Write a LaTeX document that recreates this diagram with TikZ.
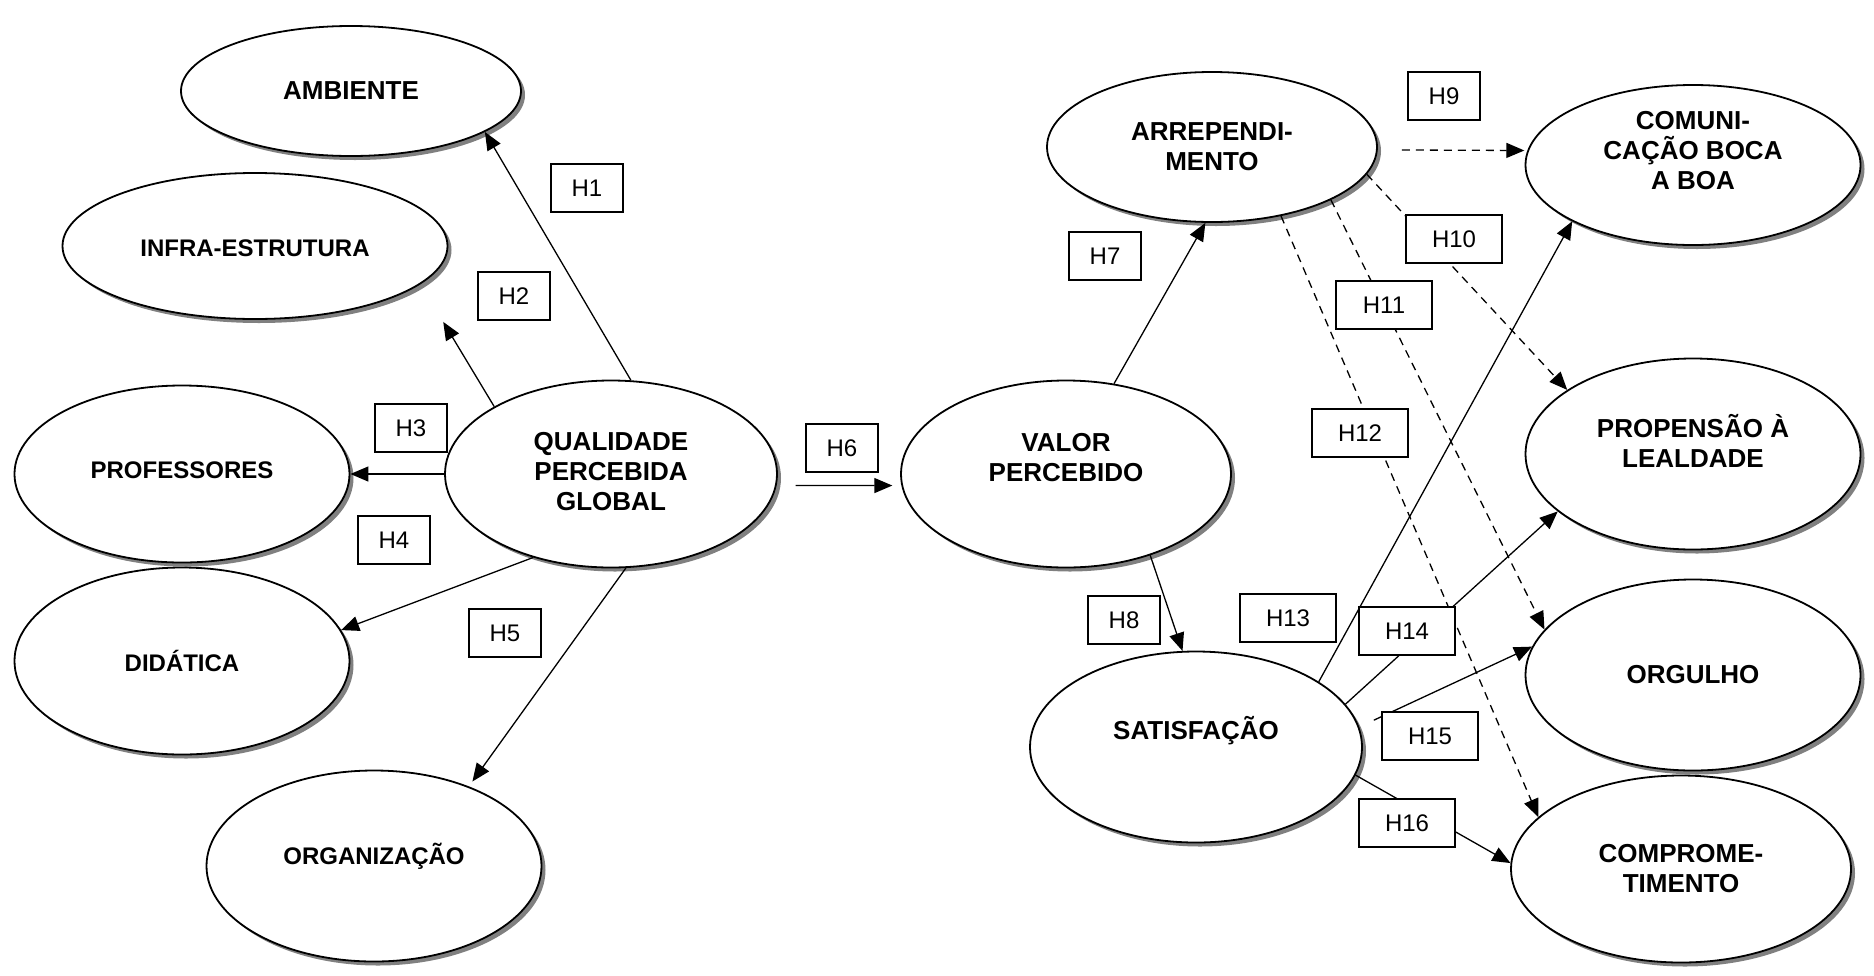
\documentclass[tikz,border=0pt]{standalone}
\usepackage{fontspec}
\setmainfont{Liberation Sans}
\usetikzlibrary{shapes.geometric,arrows.meta,shadows}

\begin{document}
\begin{tikzpicture}[x=1pt,y=-1pt,
  ell/.style={ellipse, draw, line width=1.8pt, fill=white, inner sep=0pt,
    drop shadow={shadow xshift=4pt, shadow yshift=-4pt, fill=black!50, opacity=1}},
  ttl/.style={align=center, inner sep=0pt, font=\bfseries\fontsize{26}{30}\selectfont},
  ttls/.style={ttl, font=\bfseries\fontsize{24}{28}\selectfont},
  hbox/.style={draw, line width=1.4pt, fill=white, minimum height=48pt,
    minimum width=72pt, inner sep=0pt, font=\fontsize{24}{28}\selectfont},
  hwide/.style={hbox, minimum width=96pt},
  link/.style={line width=1.3pt, -{Triangle[length=18pt,width=15pt]}},
  dlink/.style={link, dash pattern=on 8pt off 6pt}]

\useasboundingbox (0,0) rectangle (1874,975);

% constructs (ellipses)
\node[ell, minimum width=340pt, minimum height=130pt] (amb)   at (351,91)   {};
\node[ell, minimum width=385pt, minimum height=146pt] (infra) at (255,246)  {};
\node[ell, minimum width=335pt, minimum height=177pt] (prof)  at (182,474)  {};
\node[ell, minimum width=335pt, minimum height=187pt] (did)   at (182,661)  {};
\node[ell, minimum width=335pt, minimum height=191pt] (org)   at (374,866)  {};
\node[ell, minimum width=332pt, minimum height=187pt] (qual)  at (611,474)  {};
\node[ell, minimum width=330pt, minimum height=187pt] (valor) at (1066,474) {};
\node[ell, minimum width=330pt, minimum height=150pt] (arr)   at (1212,147) {};
\node[ell, minimum width=335pt, minimum height=160pt] (com)   at (1693,165) {};
\node[ell, minimum width=335pt, minimum height=191pt] (prop)  at (1693,454) {};
\node[ell, minimum width=335pt, minimum height=191pt] (orgu)  at (1693,675) {};
\node[ell, minimum width=340pt, minimum height=187pt] (comp)  at (1681,869) {};
\node[ell, minimum width=332pt, minimum height=191pt] (sat)   at (1196,747) {};

% construct names
\node[ttl]  (amb-t)   at (amb.center)                 {AMBIENTE};
\node[ttls] (infra-t) at ([yshift=-2pt]infra.center)  {INFRA-ESTRUTURA};
\node[ttls] (prof-t)  at ([yshift=4pt]prof.center)    {PROFESSORES};
\node[ttls] (did-t)   at (did.center)                 {DIDÁTICA};
\node[ttls] (org-t)   at ([yshift=10pt]org.center)    {ORGANIZAÇÃO};
\node[ttl]  (qual-t)  at ([yshift=2pt]qual.center)    {QUALIDADE\\PERCEBIDA\\GLOBAL};
\node[ttl]  (valor-t) at ([yshift=16pt]valor.center)  {VALOR\\PERCEBIDO};
\node[ttl]  (arr-t)   at (arr.center)                 {ARREPENDI-\\MENTO};
\node[ttl]  (com-t)   at ([yshift=14pt]com.center)    {COMUNI-\\CAÇÃO BOCA\\A BOA};
\node[ttl]  (prop-t)  at ([yshift=13pt]prop.center)   {PROPENSÃO À\\LEALDADE};
\node[ttl]  (orgu-t)  at (orgu.center)                {ORGULHO};
\node[ttl]  (comp-t)  at (comp.center)                {COMPROME-\\TIMENTO};
\node[ttl]  (sat-t)   at ([yshift=16pt]sat.center)    {SATISFAÇÃO};

% hypothesised paths
\draw[link] (qual.78) -- (amb.-17);
\draw[link, shorten >=44pt] (qual.150) -- (infra.-13);
\draw[link] (qual.west) -- (prof.east);
\draw[link] (qual.-133) -- (did.11);
\draw[link, shorten >=6pt] (qual.-81) -- (org.40);
\draw[link, shorten <=19pt, shorten >=9pt] (qual.-4.6) -- (valor.184.6);
\draw[link] (valor.62) -- (arr.-95);
\draw[link] (valor.-44) -- (sat.98);
\draw[dlink, shorten <=24pt, shorten >=3pt] (arr.-1) -- (com.175);
\draw[dlink] (arr.-10) -- (prop.153);
\draw[dlink] (arr.-24) -- (orgu.163);
\draw[dlink] (arr.-45) -- (comp.160);
\draw[link] (sat.28) -- (com.-155);
\draw[link] (sat.16) -- (prop.-157);
\draw[link, shorten <=16pt] (sat.7) -- (orgu.170);
\draw[link] (sat.-10.5) -- (comp.178);

% hypothesis labels
\node[hbox]  (h1)  at (587,188)  {H1};
\node[hbox]  (h2)  at (514,296)  {H2};
\node[hbox]  (h3)  at (411,428)  {H3};
\node[hbox]  (h4)  at (394,540)  {H4};
\node[hbox]  (h5)  at (505,633)  {H5};
\node[hbox]  (h6)  at (842,448)  {H6};
\node[hbox]  (h7)  at (1105,256) {H7};
\node[hbox]  (h8)  at (1124,620) {H8};
\node[hbox]  (h9)  at (1444,96)  {H9};
\node[hwide] (h10) at (1454,239) {H10};
\node[hwide] (h11) at (1384,305) {H11};
\node[hwide] (h12) at (1360,433) {H12};
\node[hwide] (h13) at (1288,618) {H13};
\node[hwide] (h14) at (1407,631) {H14};
\node[hwide] (h15) at (1430,736) {H15};
\node[hwide] (h16) at (1407,823) {H16};

\end{tikzpicture}
\end{document}
